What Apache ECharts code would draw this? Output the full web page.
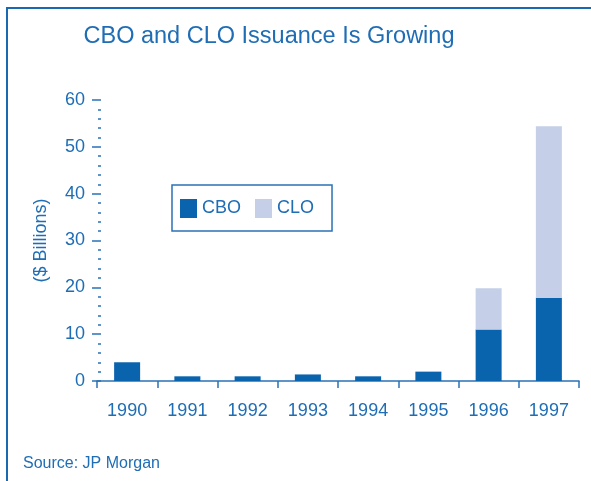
<!DOCTYPE html>
<html>
<head>
<meta charset="utf-8">
<script src="https://cdn.jsdelivr.net/npm/echarts@6/dist/echarts.min.js"></script>
<style>
  html, body { margin: 0; padding: 0; background: #fff; }
  #frame {
    position: absolute; left: 6px; top: 7px; width: 600px; height: 500px;
    border-left: 2px solid #1a68b0; border-top: 2px solid #1a68b0;
  }
  #chart { position: absolute; left: 0; top: 0; width: 591px; height: 481px; }
</style>
</head>
<body>
<div id="frame"></div>
<div id="chart"></div>
<script>
// data ($ billions)
const years = ['1990', '1991', '1992', '1993', '1994', '1995', '1996', '1997']
const cbo = [4.0, 1.0, 1.0, 1.4, 1.0, 2.0, 11.0, 17.8]
const clo = [0, 0, 0, 0, 0, 0, 8.8, 36.6]

const textColor = '#1e6db5'
const axisColor = '#2a72b5'
const font = 'Liberation Sans, Arial, sans-serif'

const chart = echarts.init(document.getElementById('chart'))

chart.setOption({
  animation: false,
  title: {
    text: 'CBO and CLO Issuance Is Growing',
    left: 264, top: 20, textAlign: 'center',
    textStyle: {color: textColor, fontSize: 23.5, fontWeight: 'normal', fontFamily: font}
  },
  legend: {
    data: ['CBO', 'CLO'],
    left: 172, top: 185,
    padding: [14, 18, 13, 8],
    icon: 'rect',
    borderColor: axisColor, borderWidth: 1.5,
    itemWidth: 17, itemHeight: 19, itemGap: 14,
    textStyle: {color: textColor, fontSize: 18, fontFamily: font}
  },
  graphic: [{
    type: 'text', left: 23, top: 456,
    style: {text: 'Source: JP Morgan', fill: textColor, fontSize: 16, fontFamily: font}
  }],
  grid: {left: 97, right: 12, top: 100, bottom: 100, containLabel: false},
  xAxis: {
    type: 'category',
    data: years,
    boundaryGap: true,
    axisLine: {lineStyle: {color: axisColor, width: 1.5}},
    axisTick: {show: true, length: 7, lineStyle: {color: axisColor, width: 1.5}},
    axisLabel: {color: textColor, fontSize: 18, fontFamily: font, margin: 21}
  },
  yAxis: {
    type: 'value',
    min: 0, max: 60, interval: 10,
    offset: -4,
    name: '($ Billions)',
    nameLocation: 'middle',
    nameGap: 51,
    nameTextStyle: {color: textColor, fontSize: 18, fontFamily: font},
    axisLine: {show: false},
    axisTick: {show: true, length: 9, lineStyle: {color: axisColor, width: 1.5}},
    minorTick: {show: true, splitNumber: 5, length: 3, lineStyle: {color: axisColor, width: 1.5}},
    splitLine: {show: false},
    axisLabel: {color: textColor, fontSize: 18, fontFamily: font, margin: 16}
  },
  series: [
    {name: 'CBO', type: 'bar', stack: 'total', data: cbo, barWidth: 26, itemStyle: {color: '#0a63ad'}},
    {name: 'CLO', type: 'bar', stack: 'total', data: clo, barWidth: 26, itemStyle: {color: '#c5cfe8'}}
  ]
})
</script>
</body>
</html>
